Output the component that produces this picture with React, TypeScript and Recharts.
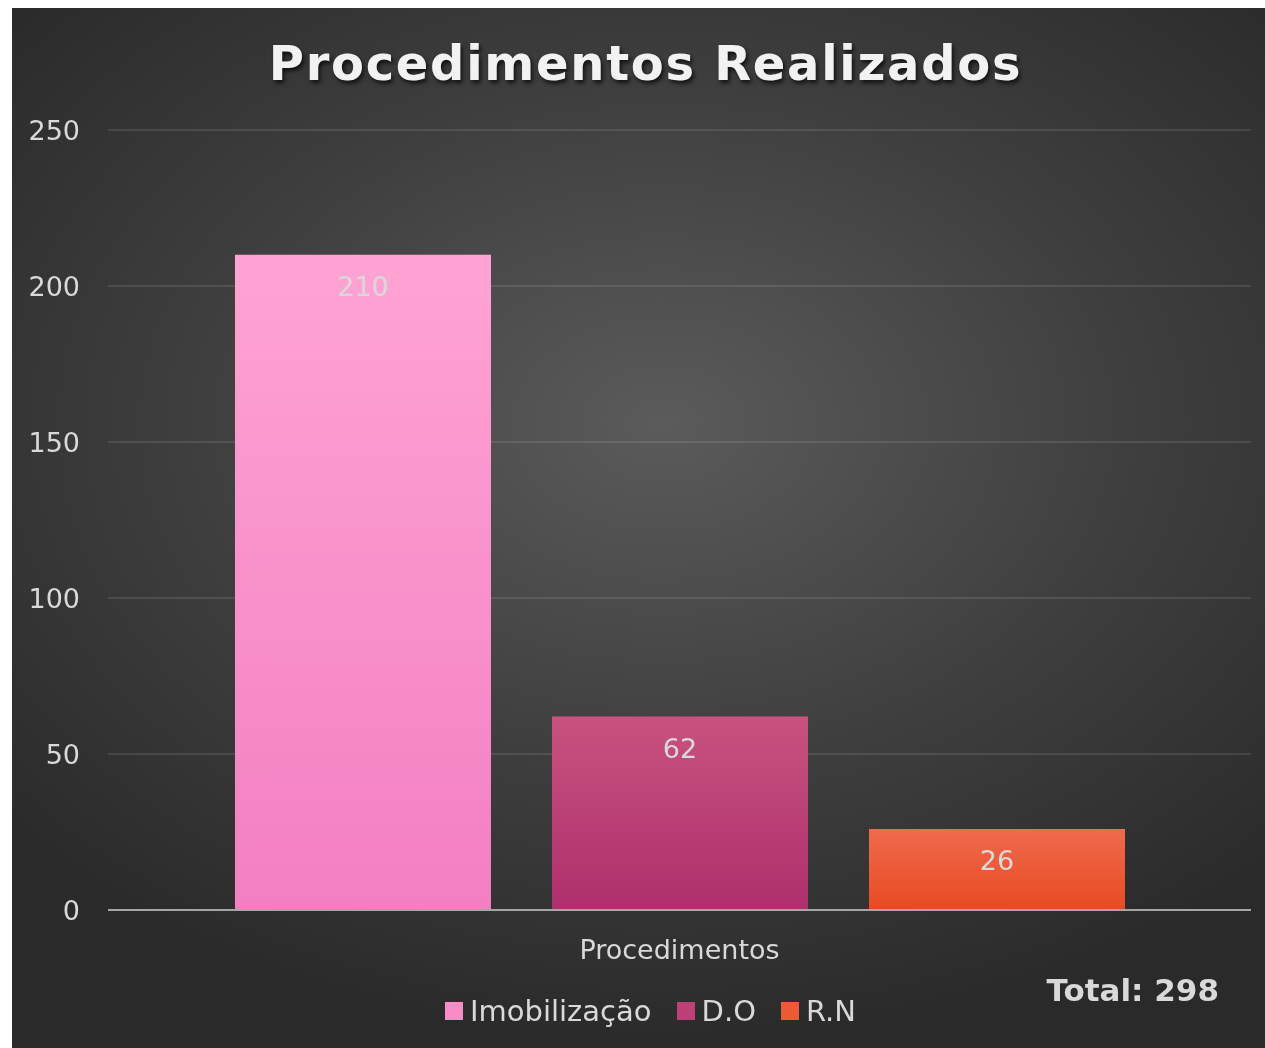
import { BarChart, Bar, XAxis, YAxis, CartesianGrid, LabelList } from 'recharts';

const categories = ['Procedimentos'];
const imobilizacao = [210];
const dO = [62];
const rN = [26];
const seriesNames = ['Imobilização', 'D.O', 'R.N'];
const seriesColors = ['#f98cc8', '#bd4176', '#ec5a36'];
const yTicks = [0, 50, 100, 150, 200, 250];
const totalLabel = 'Total: 298';

const data = categories.map((name, i) => ({
  name,
  'Imobilização': imobilizacao[i],
  'D.O': dO[i],
  'R.N': rN[i],
}));

const FONT = '"DejaVu Sans", sans-serif';
const TEXT = '#d9d9d9';

export default function App() {
  return (
    <div
      style={{
        position: 'fixed',
        left: 12,
        top: 8,
        width: 1253,
        height: 1040,
        background: 'radial-gradient(ellipse 70% 60% at 52% 40%, #5b5b5b 0%, #3e3e3e 55%, #2a2a2a 100%)',
        fontFamily: FONT,
        overflow: 'hidden',
      }}
    >
      <style>{'html,body{overflow:hidden;}'}</style>
      <div
        style={{
          position: 'absolute',
          top: 27,
          left: 7,
          width: 1253,
          textAlign: 'center',
          color: '#f2f2f2',
          fontSize: 48,
          fontWeight: 'bold',
          letterSpacing: 1.7,
          textShadow: '2px 3px 4px rgba(0,0,0,0.7)',
        }}
      >
        Procedimentos Realizados
      </div>
      <BarChart
        width={1253}
        height={1040}
        data={data}
        margin={{ top: 122, right: 14, left: 0, bottom: 0 }}
        barCategoryGap={127}
        barGap={61}
      >
        <defs>
          <linearGradient id="gImob" x1="0" y1="0" x2="0" y2="1">
            <stop offset="0%" stopColor="#ffa3d4" />
            <stop offset="100%" stopColor="#f37fc3" />
          </linearGradient>
          <linearGradient id="gDO" x1="0" y1="0" x2="0" y2="1">
            <stop offset="0%" stopColor="#c9527f" />
            <stop offset="100%" stopColor="#ae2f6c" />
          </linearGradient>
          <linearGradient id="gRN" x1="0" y1="0" x2="0" y2="1">
            <stop offset="0%" stopColor="#f06a4d" />
            <stop offset="100%" stopColor="#e74a22" />
          </linearGradient>
        </defs>
        <CartesianGrid vertical={false} stroke="rgba(255,255,255,0.1)" strokeWidth={2} />
        <XAxis
          dataKey="name"
          height={138}
          stroke="#a6a6a6"
          strokeWidth={2}
          tickLine={false}
          tickSize={0}
          tickMargin={30}
          tick={{ fill: TEXT, fontSize: 27, fontFamily: FONT }}
        />
        <YAxis
          width={96}
          domain={[0, 250]}
          ticks={yTicks}
          axisLine={false}
          tickLine={false}
          tickSize={0}
          tickMargin={28}
          tick={{ fill: TEXT, fontSize: 27, fontFamily: FONT }}
        />
        <Bar dataKey="Imobilização" fill="url(#gImob)" isAnimationActive={false}>
          <LabelList dataKey="Imobilização" position="insideTop" offset={22} fill={TEXT} fontSize={27} fontFamily={FONT} />
        </Bar>
        <Bar dataKey="D.O" fill="url(#gDO)" isAnimationActive={false}>
          <LabelList dataKey="D.O" position="insideTop" offset={22} fill={TEXT} fontSize={27} fontFamily={FONT} />
        </Bar>
        <Bar dataKey="R.N" fill="url(#gRN)" isAnimationActive={false}>
          <LabelList dataKey="R.N" position="insideTop" offset={22} fill={TEXT} fontSize={27} fontFamily={FONT} />
        </Bar>
      </BarChart>
      <div
        style={{
          position: 'absolute',
          left: 433,
          top: 986,
          display: 'flex',
          alignItems: 'center',
          gap: 25,
        }}
      >
        {seriesNames.map((n, i) => (
          <div key={n} style={{ display: 'flex', alignItems: 'center' }}>
            <span style={{ width: 18, height: 18, background: seriesColors[i], marginRight: 7, display: 'inline-block' }} />
            <span style={{ color: TEXT, fontSize: 29 }}>{n}</span>
          </div>
        ))}
      </div>
      <div
        style={{
          position: 'absolute',
          right: 46,
          top: 964,
          color: TEXT,
          fontSize: 31,
          fontWeight: 'bold',
        }}
      >
        {totalLabel}
      </div>
    </div>
  );
}
